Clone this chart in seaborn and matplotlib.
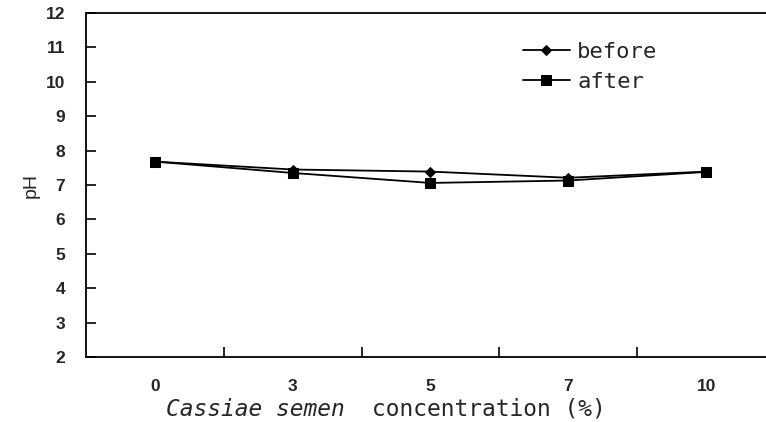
import matplotlib
matplotlib.use("Agg")
import matplotlib.pyplot as plt
from matplotlib.ticker import FixedLocator
import seaborn as sns
import pandas as pd

# Cassiae semen concentration (%) and pH before / after
concentrations = ["0", "3", "5", "7", "10"]
ph_before = [7.68, 7.45, 7.39, 7.21, 7.39]
ph_after = [7.68, 7.35, 7.06, 7.13, 7.38]

sns.set_theme(style="white")
plt.rcParams["font.family"] = ["Liberation Sans", "DejaVu Sans"]

positions = list(range(len(concentrations)))
df = pd.DataFrame({
    "pos": positions * 2,
    "pH": ph_before + ph_after,
    "series": ["before"] * len(positions) + ["after"] * len(positions),
})

fig = plt.figure(figsize=(7.66, 4.22), dpi=100)
ax = fig.add_axes([86 / 766, 1 - 357 / 422, (775 - 86) / 766, (357 - 13) / 422])

sns.lineplot(
    data=df, x="pos", y="pH", style="series", markers={"before": "D", "after": "s"},
    dashes=False, color="black", linewidth=1.3, markersize=7, ax=ax,
    style_order=["before", "after"], legend=False,
)
# diamonds are drawn smaller than squares
lines = ax.get_lines()
lines[0].set_markersize(5.5)
lines[1].set_markersize(7)
for ln in lines:
    ln.set_markeredgecolor("black")
    ln.set_markerfacecolor("black")

ax.set_xlim(-0.5, len(concentrations) - 0.5)
ax.set_ylim(2, 12)
ax.set_yticks(range(2, 13))
ax.set_yticklabels([str(v) for v in range(2, 13)], fontsize=12.5, fontweight="bold")

# category labels centred, tick marks between categories
ax.set_xticks(positions)
ax.set_xticklabels(concentrations, fontsize=12.5, fontweight="bold")
ax.tick_params(axis="x", which="major", length=0, pad=16)
ax.xaxis.set_minor_locator(FixedLocator([p + 0.5 for p in positions[:-1]]))
ax.tick_params(axis="x", which="minor", direction="in", length=7, width=1.2, color="black", bottom=True)
ax.tick_params(axis="y", direction="in", length=7, width=1.2, color="black", left=True, pad=15)

for side in ["left", "bottom", "top", "right"]:
    ax.spines[side].set_visible(True)
    ax.spines[side].set_color("black")
    ax.spines[side].set_linewidth(1.3)

ax.set_ylabel("pH", fontsize=14, labelpad=4)
ax.set_xlabel("")

# x-axis title: italic species name followed by monospace text
xt_y = 1 - 416 / 422
fig.text(166 / 766, xt_y, "Cassiae semen", fontsize=16.5, family="DejaVu Sans Mono",
         style="italic", ha="left", va="baseline")
fig.text(372 / 766, xt_y, "concentration (%)", fontsize=16.5, family="DejaVu Sans Mono",
         ha="left", va="baseline")

ax.legend(
    handles=[lines[0], lines[1]], labels=["before", "after"], loc="upper left",
    bbox_to_anchor=(0.605, 0.975), frameon=False, handlelength=2.1,
    handletextpad=0.35, labelspacing=0.45,
    prop={"family": "DejaVu Sans Mono", "size": 16},
)

fig.savefig("out.png", dpi=100)
